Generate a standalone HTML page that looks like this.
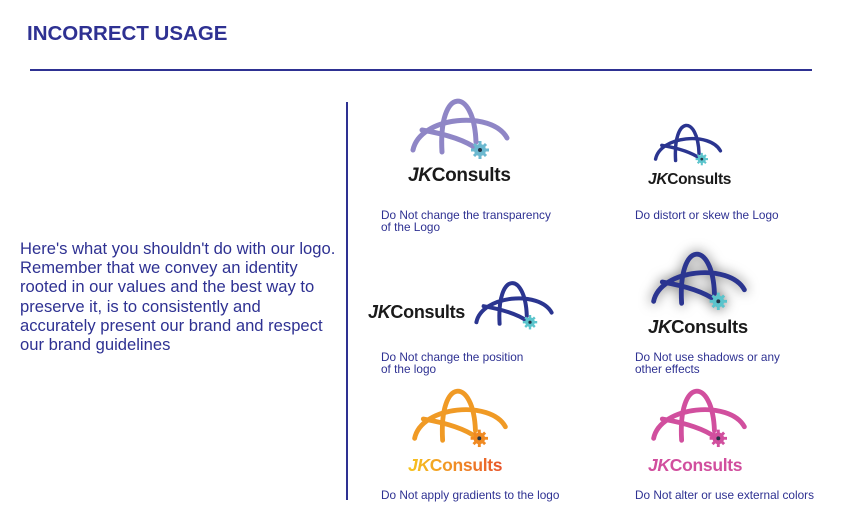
<!DOCTYPE html>
<html><head><meta charset="utf-8"><style>
body{margin:0;width:842px;height:530px;background:#fff;position:relative;overflow:hidden;font-family:"Liberation Sans",sans-serif;color:#2e3192}
.a{position:absolute}
.t{font-weight:bold;color:#1a1a1a;letter-spacing:-0.3px;white-space:nowrap}
.t i{font-style:italic}
.c{font-size:11.8px;line-height:12px;color:#2e3192;white-space:nowrap}
svg.m{position:absolute;overflow:visible}
</style></head><body>
<svg width="0" height="0" style="position:absolute"><defs>
<symbol id="mk" viewBox="0 0 100 58" overflow="visible">
<g fill="none" stroke="currentColor" stroke-linecap="round">
<path d="M3,48 C10,14 82,8 97,36" stroke-width="5"/>
<path d="M32,50 C28,-16 64,-16 66,40" stroke-width="5"/>
<path d="M12,28 C35,32 55,38 67,47" stroke-width="5"/>
</g>
<g fill="var(--g)"><circle cx="70" cy="48" r="6"/>
<g stroke="var(--g)" stroke-width="3"><line x1="70" y1="39" x2="70" y2="57"/><line x1="61" y1="48" x2="79" y2="48"/><line x1="64" y1="42" x2="76" y2="54"/><line x1="76" y1="42" x2="64" y2="54"/></g>
<circle cx="70" cy="48" r="2" fill="#234"/></g>
</symbol>
</defs></svg>

<div class="a" style="left:27px;top:22px;font-size:20.5px;font-weight:bold;color:#2e3192">INCORRECT USAGE</div>
<div class="a" style="left:30px;top:69px;width:782px;height:1.5px;background:#2e3192"></div>
<div class="a" style="left:346px;top:102px;width:1.5px;height:398px;background:#2e3192"></div>
<div class="a" style="left:20px;top:239px;font-size:16.6px;line-height:19.2px;white-space:nowrap">Here's what you shouldn't do with our logo.<br>Remember that we convey an identity<br>rooted in our values and the best way to<br>preserve it, is to consistently and<br>accurately present our brand and respect<br>our brand guidelines</div>

<svg class="m" style="left:408px;top:102px;color:#8f86c6;--g:#6bb8cf" width="104" height="58"><use href="#mk"/></svg>
<div class="a t" style="left:408px;top:165px;font-size:19px"><i>JK</i>Consults</div>
<div class="a c" style="left:381px;top:209px">Do Not change the transparency<br>of the Logo</div>

<svg class="m" style="left:648px;top:126px;color:#2b3590;--g:#5bc4cc" width="80" height="40"><use href="#mk" preserveAspectRatio="none" width="80" height="40"/></svg>
<div class="a t" style="left:648px;top:171px;font-size:15.5px"><i>JK</i>Consults</div>
<div class="a c" style="left:635px;top:209px">Do distort or skew the Logo</div>

<div class="a t" style="left:368px;top:302px;font-size:18px"><i>JK</i>Consults</div>
<svg class="m" style="left:474px;top:280px;color:#2b3590;--g:#5bc4cc" width="80" height="54"><use href="#mk" width="80" height="54" preserveAspectRatio="none"/></svg>
<div class="a c" style="left:381px;top:351px">Do Not change the position<br>of the logo</div>

<svg class="m" style="left:648px;top:255px;color:#2b3590;--g:#5bc4cc;filter:drop-shadow(0 0 6px rgba(0,0,0,.6))" width="102" height="56"><use href="#mk"/></svg>
<div class="a t" style="left:648px;top:316px;font-size:18.5px"><i>JK</i>Consults</div>
<div class="a c" style="left:635px;top:351px">Do Not use shadows or any<br>other effects</div>

<svg class="m" style="left:408px;top:392px;color:#f09a25;--g:#f08a22" width="104" height="56"><use href="#mk"/></svg>
<div class="a t" style="left:408px;top:455px;font-size:17.5px;background:linear-gradient(90deg,#f7c51e,#e8552c);-webkit-background-clip:text;color:transparent"><i>JK</i>Consults</div>
<div class="a c" style="left:381px;top:489px">Do Not apply gradients to the logo</div>

<svg class="m" style="left:648px;top:392px;color:#d14f9e;--g:#d14f9e" width="102" height="56"><use href="#mk"/></svg>
<div class="a t" style="left:648px;top:455px;font-size:17.5px;color:#d14f9e"><i>JK</i>Consults</div>
<div class="a c" style="left:635px;top:489px">Do Not alter or use external colors</div>
</body></html>
